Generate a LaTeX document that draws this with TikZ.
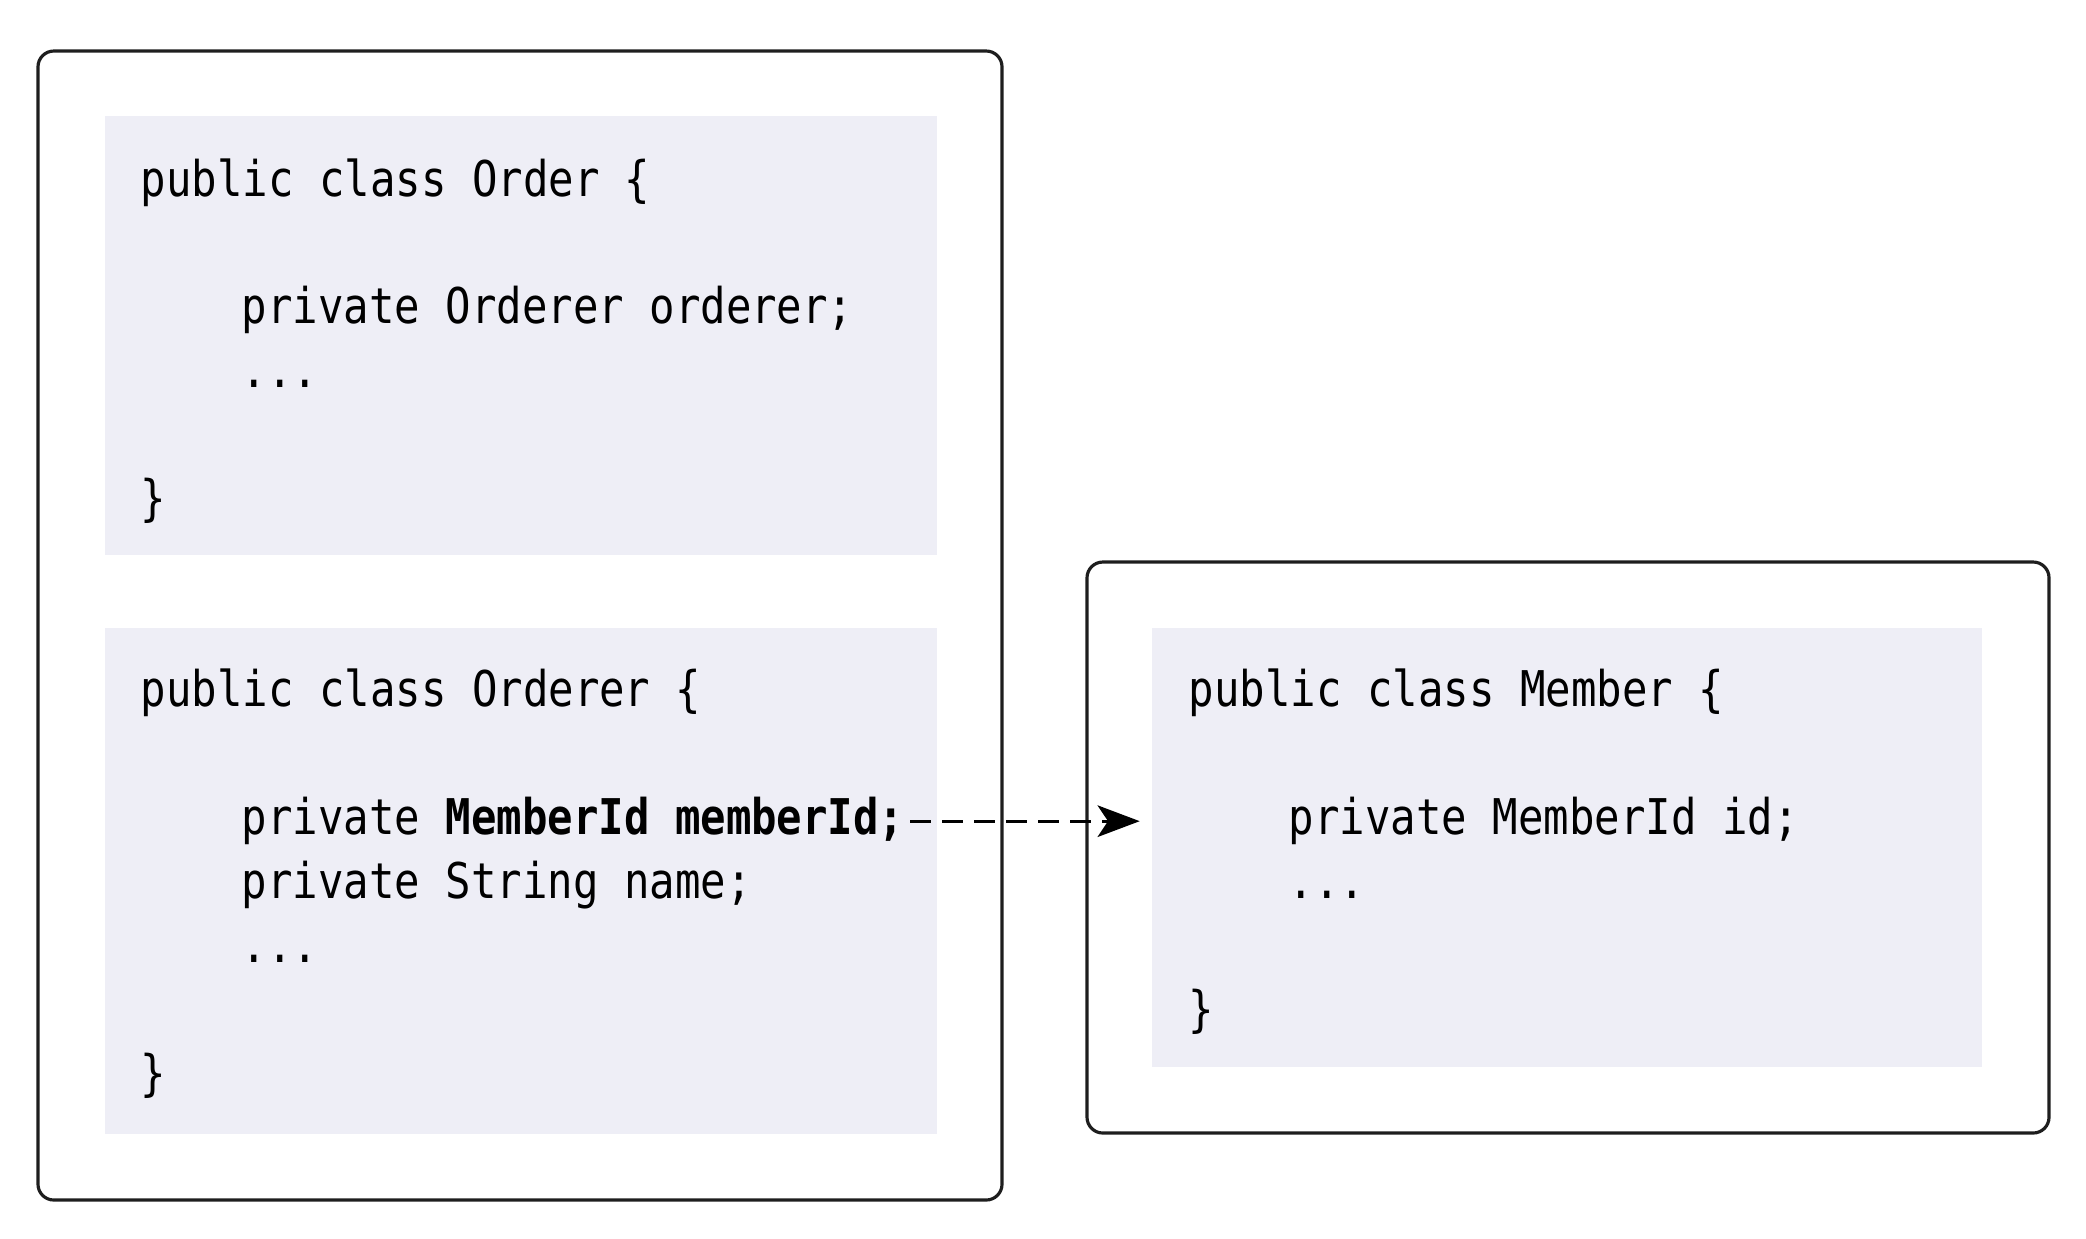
\documentclass[tikz,border=0pt]{standalone}
\usepackage{fontspec}
\newfontfamily\codefont[FakeStretch=0.86]{DejaVu Sans Mono}
\usetikzlibrary{arrows.meta}
\definecolor{codeBg}{RGB}{238, 238, 246}
\definecolor{frameLine}{RGB}{30, 30, 30}

\begin{document}
\begin{tikzpicture}[x=0.01cm, y=-0.01cm,
    frame/.style={draw=frameLine, line width=0.9pt, rounded corners=4.5pt},
    codebg/.style={fill=codeBg},
    code/.style={anchor=base west, inner sep=0pt, font=\codefont\fontsize{14}{17}\selectfont},
    ref/.style={dash pattern=on 5.7pt off 3.4pt, line width=0.8pt, -{Stealth[length=12pt, width=9pt, inset=3pt]}}]
  \useasboundingbox (0,0) rectangle (2086,1238);

  % frames
  \draw[frame] (38,51) rectangle (1002,1200);
  \draw[frame] (1087,562) rectangle (2049,1133);

  % code backgrounds
  \fill[codebg] (105,116) rectangle (937,555);
  \fill[codebg] (105,628) rectangle (937,1134);
  \fill[codebg] (1152,628) rectangle (1982,1067);
  \coordinate (memberEdge) at (1152,628);

  % class Order
  \node[code] (orderHead) at (140,196)  {public class Order \{};
  \node[code] (orderFld)  at (241,323)  {private Orderer orderer;};
  \node[code] (orderMore) at (241,387)  {...};
  \node[code] (orderEnd)  at (140,515)  {\}};

  % class Orderer
  \node[code] (ordererHead) at (140,706)  {public class Orderer \{};
  \node[code] (ordererId)   at (241,834)  {private \textbf{MemberId memberId;}};
  \node[code] (ordererName) at (241,898)  {private String name;};
  \node[code] (ordererMore) at (241,962)  {...};
  \node[code] (ordererEnd)  at (140,1090) {\}};

  % class Member
  \node[code] (memberHead) at (1188,706)  {public class Member \{};
  \node[code] (memberId)   at (1288,834)  {private MemberId id;};
  \node[code] (memberMore) at (1288,898)  {...};
  \node[code] (memberEnd)  at (1188,1026) {\}};

  \draw[ref, shorten <=1.5pt, shorten >=3.5pt] ([yshift=1.5pt]ordererId.mid east) -- ([yshift=1.5pt]ordererId.mid east -| memberEdge);
\end{tikzpicture}
\end{document}
